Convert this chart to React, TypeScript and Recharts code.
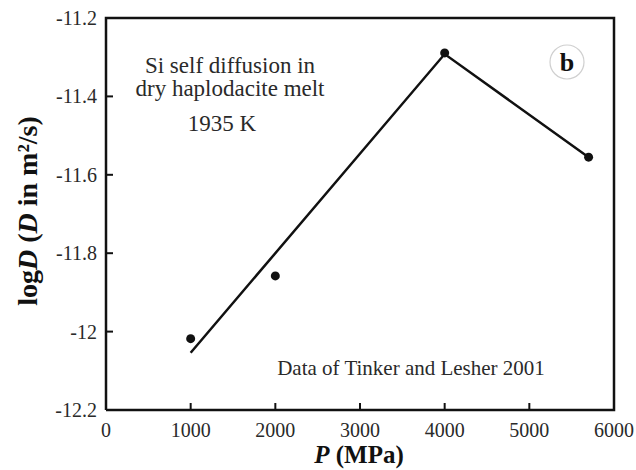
import {
  ComposedChart,
  Customized,
  Line,
  Scatter,
  XAxis,
  YAxis,
} from "recharts";

const pressure = [1000, 2000, 4000, 5700];
const logD = [-12.018, -11.858, -11.289, -11.555];

const fitP = [1000, 4000, 5700];
const fitLogD = [-12.054, -11.292, -11.555];

// plot box corners, drawn as a closed line through the axes
const frameP = [0, 6000, 6000, 0, 0];
const frameD = [-12.2, -12.2, -11.2, -11.2, -12.2];

const xTicks = [0, 1000, 2000, 3000, 4000, 5000, 6000];
const yTicks = [-12.2, -12, -11.8, -11.6, -11.4, -11.2];

const points = pressure.map((p, i) => ({ p, d: logD[i] }));
const fit = fitP.map((p, i) => ({ p, d: fitLogD[i] }));
const frame = frameP.map((p, i) => ({ p, d: frameD[i] }));

const FONT = "'Liberation Serif', 'Times New Roman', serif";
const INK = "#111";
const LABEL = "#2a2a2a";
const TICK = 7;

const fmtY = (v: number) => String(Math.round(v * 10) / 10);

// tick marks point into the plot; labels drawn by hand so the font sticks
function BottomTick(props: any) {
  const { x, y, payload } = props;
  return (
    <g>
      <path d={`M${x},${y}v${-TICK}`} stroke={INK} strokeWidth={2} fill="none" />
      <text x={x} y={y + 27} textAnchor="middle" fontSize={20} fontFamily={FONT} fill={LABEL}>
        {payload.value}
      </text>
    </g>
  );
}

function TopTick(props: any) {
  const { x, y } = props;
  return <path d={`M${x},${y}v${TICK}`} stroke={INK} strokeWidth={2} fill="none" />;
}

function LeftTick(props: any) {
  const { x, y, payload } = props;
  return (
    <g>
      <path d={`M${x},${y}h${TICK}`} stroke={INK} strokeWidth={2} fill="none" />
      <text x={x - 9} y={y + 7} textAnchor="end" fontSize={20} fontFamily={FONT} fill={LABEL}>
        {fmtY(payload.value)}
      </text>
    </g>
  );
}

function RightTick(props: any) {
  const { x, y } = props;
  return <path d={`M${x},${y}h${-TICK}`} stroke={INK} strokeWidth={2} fill="none" />;
}

function Notes() {
  return (
    <g fontFamily={FONT} fill={LABEL}>
      <text x={230} y={73} fontSize={23} textAnchor="middle">
        Si self diffusion in
      </text>
      <text x={230} y={96} fontSize={23} textAnchor="middle">
        dry haplodacite melt
      </text>
      <text x={222} y={131} fontSize={23} textAnchor="middle">
        1935 K
      </text>
      <text x={411} y={375} fontSize={21} textAnchor="middle">
        Data of Tinker and Lesher 2001
      </text>
      <circle cx={567} cy={62} r={17} fill="none" stroke="#cfcfcf" strokeWidth={1.2} />
      <text x={567} y={71} fontSize={26} fontWeight="bold" textAnchor="middle" fill="#111">
        b
      </text>
      <text
        transform="translate(37,211) rotate(-90)"
        fontSize={28}
        fontWeight="bold"
        textAnchor="middle"
        fill="#111"
      >
        log<tspan fontStyle="italic">D</tspan> (<tspan fontStyle="italic">D</tspan> in m²/s)
      </text>
      <text x={359} y={463} fontSize={25} fontWeight="bold" textAnchor="middle" fill="#111">
        <tspan fontStyle="italic">P</tspan> (MPa)
      </text>
    </g>
  );
}

export default function App() {
  return (
    <div style={{ position: "absolute", left: 0, top: 0, background: "#fff" }}>
      <ComposedChart
        width={636}
        height={470}
        margin={{ top: 18, right: 22, bottom: 0, left: 0 }}
      >
        <XAxis
          xAxisId="b"
          dataKey="p"
          type="number"
          domain={[0, 6000]}
          ticks={xTicks}
          height={60}
          tick={<BottomTick />}
          tickSize={0}
          tickMargin={0}
          tickLine={false}
          axisLine={false}
        />
        <XAxis
          xAxisId="t"
          orientation="top"
          dataKey="p"
          type="number"
          domain={[0, 6000]}
          ticks={xTicks.slice(1, -1)}
          height={0}
          tick={<TopTick />}
          tickSize={0}
          tickMargin={0}
          tickLine={false}
          axisLine={false}
        />
        <YAxis
          yAxisId="l"
          dataKey="d"
          type="number"
          domain={[-12.2, -11.2]}
          ticks={yTicks}
          width={106}
          tick={<LeftTick />}
          tickSize={0}
          tickMargin={0}
          tickLine={false}
          axisLine={false}
        />
        <YAxis
          yAxisId="r"
          orientation="right"
          dataKey="d"
          type="number"
          domain={[-12.2, -11.2]}
          ticks={yTicks.slice(1, -1)}
          width={0}
          tick={<RightTick />}
          tickSize={0}
          tickMargin={0}
          tickLine={false}
          axisLine={false}
        />
        <Line
          xAxisId="b"
          yAxisId="l"
          data={frame}
          dataKey="d"
          type="linear"
          stroke={INK}
          strokeWidth={2.5}
          strokeLinejoin="miter"
          dot={false}
          activeDot={false}
          isAnimationActive={false}
        />
        <Line
          xAxisId="b"
          yAxisId="l"
          data={fit}
          dataKey="d"
          type="linear"
          stroke={INK}
          strokeWidth={2.5}
          dot={false}
          activeDot={false}
          isAnimationActive={false}
        />
        <Scatter
          xAxisId="b"
          yAxisId="l"
          data={points}
          dataKey="d"
          fill="#111"
          shape={(props: any) => <circle cx={props.cx} cy={props.cy} r={4.5} fill="#111" />}
          isAnimationActive={false}
        />
        <Customized component={Notes} />
      </ComposedChart>
    </div>
  );
}
